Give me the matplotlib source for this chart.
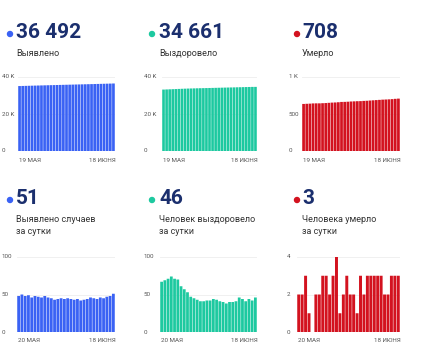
import matplotlib.pyplot as plt
import matplotlib.patches as mpatches

plt.rcParams['font.family'] = ['Roboto', 'DejaVu Sans']

W, H = 430, 355

# cumulative, 19 May .. 18 June
total_cases = [35112, 35160, 35210, 35258, 35307, 35353, 35401, 35448, 35494, 35542,
               35588, 35633, 35676, 35720, 35765, 35809, 35854, 35898, 35941, 35985,
               36027, 36070, 36114, 36160, 36205, 36249, 36295, 36340, 36387, 36441, 36492]
total_recovered = [33210, 33277, 33346, 33417, 33491, 33562, 33632, 33693, 33750, 33803,
                   33850, 33895, 33938, 33979, 34020, 34062, 34104, 34148, 34191, 34232,
                   34272, 34310, 34350, 34390, 34431, 34477, 34521, 34562, 34606, 34648, 34661]
total_deaths = [636, 638, 640, 643, 644, 644, 646, 648, 651, 654,
                656, 659, 663, 664, 666, 669, 671, 673, 674, 677,
                679, 682, 685, 688, 691, 694, 696, 698, 701, 705, 708]

# per day, 20 May .. 18 June
daily_cases = [48, 50, 48, 49, 46, 48, 47, 46, 48, 46, 45, 43, 44, 45, 44,
               45, 44, 43, 44, 42, 43, 44, 46, 45, 44, 46, 45, 47, 48, 51]
daily_recovered = [67, 69, 71, 74, 71, 70, 61, 57, 53, 47, 45, 43, 41, 41, 42,
                   42, 44, 43, 41, 40, 38, 40, 40, 41, 46, 44, 41, 44, 42, 46]
daily_deaths = [2, 2, 3, 1, 0, 2, 2, 3, 3, 2, 3, 4, 1, 2, 3,
                2, 2, 1, 3, 2, 3, 3, 3, 3, 3, 2, 2, 3, 3, 3]

BLUE = '#3a62f4'
GREEN = '#1dc9a0'
RED = '#d3121f'
NAVY = '#1b2f6e'

panels = [
    # number, label lines, data, color, yticks, yticklabels, x labels,
    # dot x, text x, tick label x, axes x0, x1, row
    ('36 492', ['Выявлено'], total_cases, BLUE, [0, 20000, 40000], ['0', '20 K', '40 K'],
     ('19 МАЯ', '18 ИЮНЯ'), 10, 16, 2, 18, 115, 0),
    ('34 661', ['Выздоровело'], total_recovered, GREEN, [0, 20000, 40000], ['0', '20 K', '40 K'],
     ('19 МАЯ', '18 ИЮНЯ'), 152, 159, 144, 162, 257, 0),
    ('708', ['Умерло'], total_deaths, RED, [0, 500, 1000], ['0', '500', '1 K'],
     ('19 МАЯ', '18 ИЮНЯ'), 297, 302, 289, 302, 400, 0),
    ('51', ['Выявлено случаев', 'за сутки'], daily_cases, BLUE, [0, 50, 100], ['0', '50', '100'],
     ('20 МАЯ', '18 ИЮНЯ'), 10, 16, 2, 17, 115, 1),
    ('46', ['Человек выздоровело', 'за сутки'], daily_recovered, GREEN, [0, 50, 100], ['0', '50', '100'],
     ('20 МАЯ', '18 ИЮНЯ'), 152, 159, 144, 160, 257, 1),
    ('3', ['Человека умерло', 'за сутки'], daily_deaths, RED, [0, 2, 4], ['0', '2', '4'],
     ('20 МАЯ', '18 ИЮНЯ'), 297, 302, 287, 297, 400, 1),
]

# row geometry in pixels (from top)
rows = {
    0: dict(num_y=33, lab_y=[53], top=77, bottom=151, xl_y=160),
    1: dict(num_y=199, lab_y=[220, 232], top=257, bottom=332, xl_y=341),
}

fig = plt.figure(figsize=(W / 100, H / 100), dpi=100)
fig.patch.set_facecolor('white')


def fx(x):
    return x / W


def fy(y):
    return 1 - y / H


for num, labels, data, color, yt, ytl, xl, dot_x, tx, tlx, x0, x1, row in panels:
    r = rows[row]
    fig.patches.append(mpatches.Ellipse((fx(dot_x), fy(r['num_y'] + 1)), 5 / W, 5 / H,
                                        transform=fig.transFigure, color=color))
    fig.text(fx(tx), fy(r['num_y']), num, fontsize=15, fontweight='bold',
             color=NAVY, va='center', ha='left')
    for lab, ly in zip(labels, r['lab_y']):
        fig.text(fx(tx), fy(ly), lab, fontsize=6.5, color='#333333', va='center', ha='left')

    ax = fig.add_axes([fx(x0), fy(r['bottom']), fx(x1 - x0), (r['bottom'] - r['top']) / H])
    n = len(data)
    ax.bar(range(n), data, width=0.86, color=color, linewidth=0, zorder=2, snap=False)
    ax.set_xlim(-0.5, n - 0.5)
    ax.set_ylim(0, yt[-1])
    ax.set_yticks(yt)
    ax.set_yticklabels([])
    ax.grid(axis='y', color='#eeeeee', linewidth=0.6, zorder=0)
    ax.tick_params(axis='y', length=0)
    ax.set_xticks([])
    for s in ax.spines.values():
        s.set_visible(False)
    # tick labels to the left, left aligned
    for v, t in zip(yt, ytl):
        py = r['bottom'] - (r['bottom'] - r['top']) * v / yt[-1]
        fig.text(fx(tlx), fy(py), t, fontsize=4.5, color='#555555', va='center', ha='left')
    fig.text(fx(x0 + 1), fy(r['xl_y']), xl[0], fontsize=4.5, color='#555555', va='center', ha='left')
    fig.text(fx(x1 + 1), fy(r['xl_y']), xl[1], fontsize=4.5, color='#555555', va='center', ha='right')

fig.savefig('out.png', dpi=100)
